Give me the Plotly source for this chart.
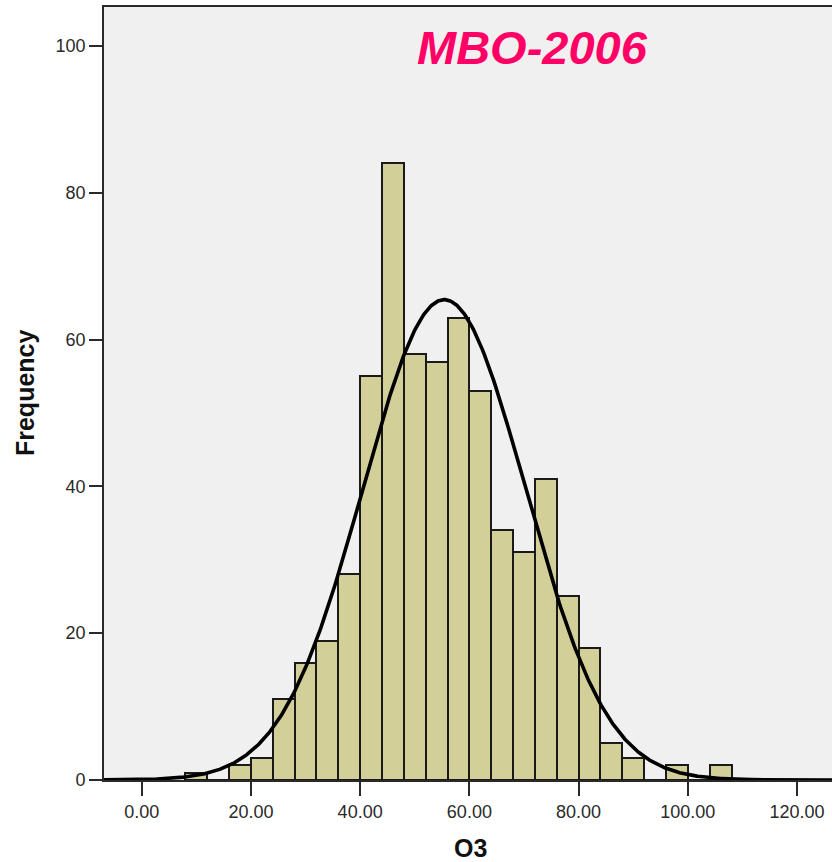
import numpy as np
import plotly.graph_objects as go

# Histogram of O3 (bin width 4, starting at 8)
bin_left = [8, 12, 16, 20, 24, 28, 32, 36, 40, 44, 48, 52, 56, 60, 64,
            68, 72, 76, 80, 84, 88, 92, 96, 100, 104]
counts = [1, 0, 2, 3, 11, 16, 19, 28, 55, 84, 58, 57, 63, 53, 34,
          31, 41, 25, 18, 5, 3, 0, 2, 0, 2]
bin_width = 4

# Fitted normal curve parameters
fit_mean = 55.4
fit_sd = 14.9
n_obs = sum(counts)

x_ticks = [0, 20, 40, 60, 80, 100, 120]
y_ticks = [0, 20, 40, 60, 80, 100]

FONT = "Liberation Sans, Arial, sans-serif"
AX = "#2a2a2a"

centers = [b + bin_width / 2 for b in bin_left]

xs = np.linspace(-8, 128, 600)
ys = n_obs * bin_width / (fit_sd * np.sqrt(2 * np.pi)) * np.exp(-0.5 * ((xs - fit_mean) / fit_sd) ** 2)

fig = go.Figure()
fig.add_trace(go.Bar(
    x=centers, y=counts, width=bin_width,
    marker=dict(color="#D3CF98", line=dict(color="#1a1a1a", width=2)),
    hoverinfo="x+y",
))
fig.add_trace(go.Scatter(
    x=xs, y=ys, mode="lines",
    line=dict(color="#000000", width=3.6),
    hoverinfo="skip",
))

fig.update_layout(
    width=832, height=862,
    margin=dict(l=104, r=0, t=7, b=82),
    paper_bgcolor="white",
    plot_bgcolor="#F0F0F0",
    showlegend=False,
    bargap=0,
    font=dict(family=FONT, color=AX, size=18),
    xaxis=dict(
        range=[-6.9, 126.4],
        tickvals=x_ticks,
        ticktext=[f"{v:.2f}" for v in x_ticks],
        ticks="outside", ticklen=14, tickwidth=1.6, tickcolor=AX,
        showline=True, linecolor=AX, linewidth=1.8, mirror=True,
        showgrid=False, zeroline=False,
        tickfont=dict(size=18, color=AX, family=FONT),
    ),
    yaxis=dict(
        range=[0, 105.3],
        tickvals=y_ticks,
        ticks="outside", ticklen=13, tickwidth=1.6, tickcolor=AX,
        showline=True, linecolor=AX, linewidth=1.8,
        showgrid=False, zeroline=False,
        tickfont=dict(size=18, color=AX, family=FONT),
    ),
    annotations=[
        dict(text="<b><i>MBO-2006</i></b>", xref="paper", yref="paper",
             x=0.589, y=0.947, xanchor="center", yanchor="middle",
             showarrow=False, font=dict(size=47, color="#FF0066", family=FONT)),
        dict(text="<b>Frequency</b>", xref="paper", yref="paper",
             x=-0.1085, y=0.5006, xanchor="center", yanchor="middle",
             textangle=-90, showarrow=False,
             font=dict(size=25, color="#111111", family=FONT)),
        dict(text="<b>O3</b>", xref="paper", yref="paper",
             x=0.503, y=-0.088, xanchor="center", yanchor="middle",
             showarrow=False, font=dict(size=25, color="#111111", family=FONT)),
    ],
)

fig.write_html("out.html")
